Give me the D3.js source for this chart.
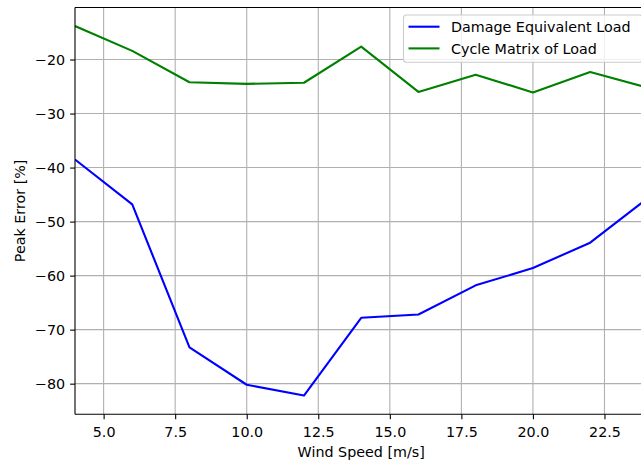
<!DOCTYPE html>
<html>
<head>
<meta charset="utf-8">
<script src="https://cdn.jsdelivr.net/npm/d3@7"></script>
<style>
  html, body { margin: 0; padding: 0; background: #fff; overflow: hidden; }
  svg { display: block; }
  text { font-family: "DejaVu Sans", sans-serif; fill: #000; }
</style>
</head>
<body>
<svg id="chart" width="641" height="461"></svg>
<script>
// Wind speeds [m/s]
const windSpeed = [4, 6, 8, 10, 12, 14, 16, 18, 20, 22, 24];
// Peak error [%] per estimation method
const delError = [-38.5, -46.8, -73.3, -80.2, -82.2, -67.8, -67.2, -61.8, -58.6, -53.9, -45.7];
const cycleError = [-13.8, -18.4, -24.2, -24.5, -24.3, -17.6, -26.0, -22.8, -26.1, -22.3, -25.2];

const seriesNames = ["Damage Equivalent Load", "Cycle Matrix of Load"];
const seriesColors = ["#0000ff", "#008000"];

const xTicks = [5.0, 7.5, 10.0, 12.5, 15.0, 17.5, 20.0, 22.5];
const yTicks = [-20, -30, -40, -50, -60, -70, -80];

const FS = 14.3;
const svg = d3.select("#chart");
const margin = { left: 75, top: 7.5, right: 647.4, bottom: 414.3 };

const x = d3.scaleLinear().domain([4, 24]).range([margin.left, margin.right]);
const yMin = -85.67, yMax = -10.37;
const y = d3.scaleLinear().domain([yMin, yMax]).range([margin.bottom, margin.top]);

// grid
const grid = svg.append("g");
grid.selectAll("line.vx").data(xTicks).join("line")
  .attr("x1", d => x(d)).attr("x2", d => x(d))
  .attr("y1", margin.top).attr("y2", margin.bottom)
  .attr("stroke", "#b0b0b0").attr("stroke-width", 1.1);
grid.selectAll("line.hy").data(yTicks).join("line")
  .attr("y1", d => y(d)).attr("y2", d => y(d))
  .attr("x1", margin.left).attr("x2", margin.right)
  .attr("stroke", "#b0b0b0").attr("stroke-width", 1.1);

// data lines, clipped to the plot area
svg.append("clipPath").attr("id", "plotclip")
  .append("rect").attr("x", margin.left).attr("y", margin.top)
  .attr("width", margin.right - margin.left).attr("height", margin.bottom - margin.top);

const line = d3.line().x(d => x(d[0])).y(d => y(d[1]));
const series = [delError, cycleError];
series.forEach((vals, i) => {
  svg.append("path")
    .datum(windSpeed.map((w, j) => [w, vals[j]]))
    .attr("d", line)
    .attr("fill", "none")
    .attr("stroke", seriesColors[i])
    .attr("stroke-width", 2.1)
    .attr("stroke-linejoin", "round")
    .attr("clip-path", "url(#plotclip)");
});

// axes
const fmtX = d3.format(".1f");
const xAxis = d3.axisBottom(x).tickValues(xTicks).tickSize(4.9).tickPadding(7.5)
  .tickFormat(d => fmtX(d));
const gx = svg.append("g").attr("transform", `translate(0,${margin.bottom})`).call(xAxis);
const yAxis = d3.axisLeft(y).tickValues(yTicks).tickSize(4.9).tickPadding(4.9)
  .tickFormat(d => d < 0 ? "\u2212" + Math.abs(d) : String(d));
const gy = svg.append("g").attr("transform", `translate(${margin.left},0)`).call(yAxis);

[gx, gy].forEach(g => {
  g.select(".domain").remove();
  g.selectAll(".tick line").attr("stroke", "#000").attr("stroke-width", 1.1);
  g.selectAll(".tick text").attr("font-size", FS).attr("font-family", "DejaVu Sans").attr("fill", "#000");
});

// spines
const spine = svg.append("g").attr("stroke", "#000").attr("stroke-width", 1.1).attr("fill", "none");
spine.append("line").attr("x1", margin.left).attr("x2", margin.left).attr("y1", margin.top).attr("y2", margin.bottom);
spine.append("line").attr("x1", margin.left).attr("x2", margin.right).attr("y1", margin.bottom).attr("y2", margin.bottom);
spine.append("line").attr("x1", margin.left).attr("x2", margin.right).attr("y1", margin.top).attr("y2", margin.top);
spine.append("line").attr("x1", margin.right).attr("x2", margin.right).attr("y1", margin.top).attr("y2", margin.bottom);

// axis labels
svg.append("text")
  .attr("x", (margin.left + margin.right) / 2).attr("y", 456.5)
  .attr("text-anchor", "middle").attr("font-size", FS)
  .text("Wind Speed [m/s]");
svg.append("text")
  .attr("transform", `translate(25,${(margin.top + margin.bottom) / 2}) rotate(-90)`)
  .attr("text-anchor", "middle").attr("font-size", FS)
  .text("Peak Error [%]");

// legend
const lg = svg.append("g");
lg.append("rect")
  .attr("x", 403.5).attr("y", 15).attr("width", 238.5).attr("height", 47.3)
  .attr("rx", 3).attr("ry", 3)
  .attr("fill", "rgba(255,255,255,0.8)").attr("stroke", "#cccccc").attr("stroke-width", 1.1);
seriesNames.forEach((name, i) => {
  const cy = 26.7 + i * 21.7;
  lg.append("line").attr("x1", 408.5).attr("x2", 439.5).attr("y1", cy).attr("y2", cy)
    .attr("stroke", seriesColors[i]).attr("stroke-width", 2.1);
  lg.append("text").attr("x", 451).attr("y", cy).attr("dy", "0.36em")
    .attr("font-size", FS).text(name);
});
</script>
</body>
</html>
